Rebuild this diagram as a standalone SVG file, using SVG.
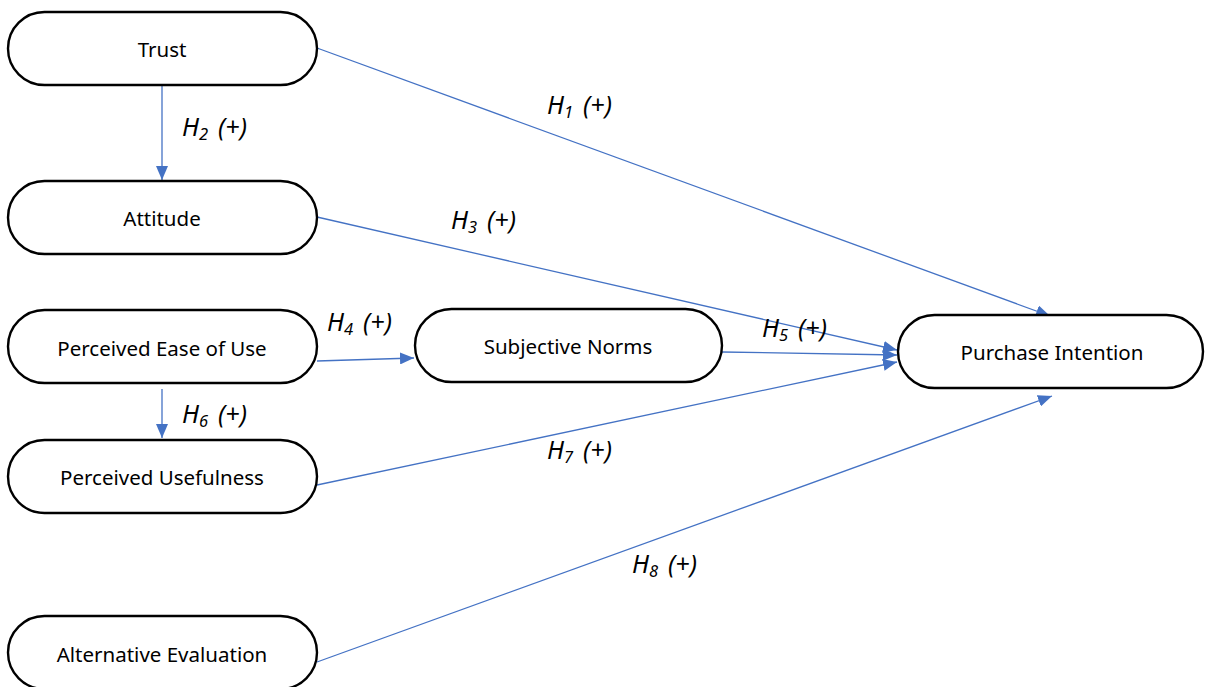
<svg xmlns="http://www.w3.org/2000/svg" width="1213" height="687" viewBox="0 0 1213 687">
  <style>
    .node { fill: #ffffff; stroke: #000000; stroke-width: 2.4; }
    .ntext { font-family: "Noto Sans", "Open Sans", sans-serif; font-size: 20.5px; fill: #000; text-anchor: middle; }
    .edge { stroke: #4472C4; stroke-width: 1.3; fill: none; marker-end: url(#arr); }
    .lbl { font-family: "Noto Sans", "Open Sans", sans-serif; font-style: italic; font-size: 25px; fill: #000; }
    .sub { font-size: 16.5px; }
  </style>
  <defs>
    <marker id="arr" viewBox="0 0 14 12" refX="14" refY="6" markerWidth="14" markerHeight="12" markerUnits="userSpaceOnUse" orient="auto">
      <path d="M0,0 L14,6 L0,12 z" fill="#4472C4"/>
    </marker>
  </defs>
  <rect width="1213" height="687" fill="#ffffff"/>

  <g id="connectors">
    <line class="edge" x1="317" y1="48" x2="1050" y2="316"/>
    <line class="edge" x1="162" y1="86" x2="162" y2="180"/>
    <line class="edge" x1="317" y1="217" x2="897" y2="350"/>
    <line class="edge" x1="317" y1="361" x2="414" y2="358"/>
    <line class="edge" x1="722" y1="352" x2="897" y2="355"/>
    <line class="edge" x1="162" y1="389" x2="162" y2="438"/>
    <line class="edge" x1="317" y1="485" x2="897" y2="362"/>
    <line class="edge" x1="317" y1="662" x2="1052" y2="396"/>
  </g>

  <g id="trust">
    <rect class="node" x="8" y="12" width="309" height="73" rx="36.5"/>
    <text class="ntext" x="162" y="57">Trust</text>
  </g>
  <g id="attitude">
    <rect class="node" x="8" y="181" width="309" height="73" rx="36.5"/>
    <text class="ntext" x="162" y="226">Attitude</text>
  </g>
  <g id="ease-of-use">
    <rect class="node" x="8" y="310" width="309" height="73" rx="36.5"/>
    <text class="ntext" x="162" y="356">Perceived Ease of Use</text>
  </g>
  <g id="usefulness">
    <rect class="node" x="8" y="440" width="309" height="73" rx="36.5"/>
    <text class="ntext" x="162" y="485">Perceived Usefulness</text>
  </g>
  <g id="alternative-evaluation">
    <rect class="node" x="8" y="616" width="309" height="73" rx="36.5"/>
    <text class="ntext" x="162" y="662">Alternative Evaluation</text>
  </g>
  <g id="subjective-norms">
    <rect class="node" x="415" y="309" width="307" height="73" rx="36.5"/>
    <text class="ntext" x="568" y="354">Subjective Norms</text>
  </g>
  <g id="purchase-intention">
    <rect class="node" x="898" y="315" width="305" height="73" rx="36.5"/>
    <text class="ntext" x="1052" y="360">Purchase Intention</text>
  </g>

  <g id="labels">
    <text class="lbl" x="547" y="114">H<tspan class="sub" dy="4">1</tspan><tspan dx="10" dy="-4">(+)</tspan></text>
    <text class="lbl" x="182" y="136">H<tspan class="sub" dy="4">2</tspan><tspan dx="10" dy="-4">(+)</tspan></text>
    <text class="lbl" x="451" y="229">H<tspan class="sub" dy="4">3</tspan><tspan dx="10" dy="-4">(+)</tspan></text>
    <text class="lbl" x="327" y="331">H<tspan class="sub" dy="4">4</tspan><tspan dx="10" dy="-4">(+)</tspan></text>
    <text class="lbl" x="762" y="337">H<tspan class="sub" dy="4">5</tspan><tspan dx="10" dy="-4">(+)</tspan></text>
    <text class="lbl" x="182" y="423">H<tspan class="sub" dy="4">6</tspan><tspan dx="10" dy="-4">(+)</tspan></text>
    <text class="lbl" x="547" y="459">H<tspan class="sub" dy="4">7</tspan><tspan dx="10" dy="-4">(+)</tspan></text>
    <text class="lbl" x="632" y="573">H<tspan class="sub" dy="4">8</tspan><tspan dx="10" dy="-4">(+)</tspan></text>
  </g>
</svg>
